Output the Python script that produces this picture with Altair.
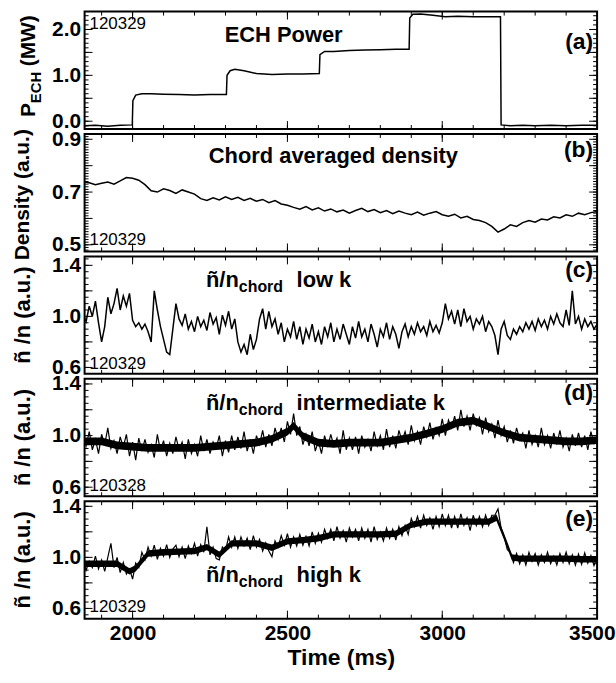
import altair as alt
import numpy as np
import pandas as pd

FONT = "Liberation Sans"
T0, T1 = 1845, 3500
W, H = 515, 118

# ---------------- data ----------------
ech_time = [1845, 1880, 1920, 1960, 1999,
            2001, 2010, 2030, 2060, 2100, 2150, 2200, 2250, 2303,
            2305, 2315, 2330, 2360, 2400, 2450, 2500, 2550, 2603,
            2605, 2620, 2650, 2700, 2750, 2800, 2850, 2893,
            2895, 2905, 2930, 2970, 3010, 3050, 3100, 3150, 3188,
            3190, 3220, 3260, 3300, 3350, 3400, 3450, 3500]
ech_power = [-0.10, -0.09, -0.11, -0.09, -0.08,
             0.45, 0.57, 0.60, 0.60, 0.59, 0.58, 0.57, 0.58, 0.58,
             1.00, 1.10, 1.13, 1.10, 1.04, 1.02, 1.03, 1.03, 1.04,
             1.45, 1.52, 1.52, 1.54, 1.55, 1.56, 1.57, 1.57,
             2.25, 2.33, 2.34, 2.31, 2.28, 2.29, 2.28, 2.28, 2.28,
             -0.08, -0.10, -0.09, -0.10, -0.09, -0.10, -0.09, -0.09]

dens_time = list(range(1840, 3501, 20))
density = [0.740, 0.735, 0.728, 0.733, 0.738, 0.730, 0.742, 0.755, 0.752, 0.745,
           0.728, 0.705, 0.700, 0.712, 0.706, 0.695, 0.708, 0.700, 0.692, 0.675,
           0.668, 0.678, 0.670, 0.682, 0.672, 0.680, 0.668, 0.676, 0.665, 0.672,
           0.660, 0.668, 0.655, 0.650, 0.642, 0.635, 0.645, 0.632, 0.640, 0.628,
           0.636, 0.625, 0.632, 0.620, 0.630, 0.638, 0.626, 0.634, 0.622, 0.630,
           0.618, 0.628, 0.620, 0.614, 0.624, 0.612, 0.620, 0.626, 0.614, 0.608,
           0.616, 0.602, 0.608, 0.596, 0.592, 0.584, 0.570, 0.548, 0.560, 0.576,
           0.570, 0.584, 0.592, 0.586, 0.598, 0.594, 0.606, 0.602, 0.614, 0.608,
           0.620, 0.614, 0.622, 0.626]

fl_time = list(range(1840, 3501, 10))
low_k = [1.02, 0.96, 1.08, 1.00, 1.12, 0.95, 0.80, 0.92, 1.15, 1.02,
         1.10, 1.22, 1.05, 1.16, 1.08, 1.18, 0.97, 0.92, 0.95, 0.90,
         0.94, 0.88, 0.80, 1.20, 1.05, 0.92, 0.82, 0.72, 0.70, 0.90,
         1.10, 0.98, 0.93, 1.02, 0.90, 0.96, 0.88, 1.00, 0.92, 0.97,
         0.89, 1.03, 0.94, 0.99, 0.86, 1.01, 0.93, 1.04, 0.90, 0.98,
         0.80, 0.72, 0.78, 0.70, 0.86, 0.74, 0.82, 0.98, 1.06, 0.90,
         1.04, 0.92, 0.98, 0.86, 0.95, 0.80, 0.90, 0.84, 0.96, 0.82,
         0.92, 0.78, 0.90, 0.83, 0.94, 0.80, 0.88, 0.78, 0.92, 0.84,
         0.95, 0.80, 0.90, 0.82, 0.94, 0.86, 0.78, 0.92, 0.83, 0.96,
         0.84, 0.90, 0.80, 0.94, 0.86, 0.76, 0.90, 0.84, 0.95, 0.82,
         0.92, 0.86, 0.75, 0.88, 0.94, 0.84, 0.92, 0.86, 0.95, 0.88,
         0.92, 0.85, 0.96, 0.88, 0.93, 0.87, 0.95, 1.10, 0.98, 1.04,
         0.94, 1.05, 0.92, 1.06, 0.96, 1.00, 0.90, 0.98, 0.94, 1.00,
         0.88, 0.96, 0.92, 0.85, 0.70, 0.90, 0.96, 0.85, 0.82, 0.90,
         0.86, 0.92, 0.88, 0.95, 0.90, 0.96, 0.89, 0.98, 0.92, 0.97,
         0.90, 1.00, 0.94, 1.02, 0.95, 0.92, 1.05, 0.93, 1.20, 0.94,
         1.00, 0.90, 0.98, 0.92, 0.96, 0.90, 0.94]
int_k = [1.00, 0.92, 1.03, 0.89, 0.97, 0.86, 1.01, 0.93, 1.06, 0.90,
         0.96, 0.86, 0.99, 0.91, 1.01, 0.84, 0.95, 0.81, 0.98, 0.88,
         0.97, 0.87, 0.93, 0.83, 1.01, 0.88, 0.96, 0.84, 0.94, 0.86,
         0.99, 0.89, 0.95, 0.82, 0.97, 0.86, 0.93, 0.84, 1.00, 0.88,
         0.97, 0.86, 0.95, 0.90, 1.00, 0.84, 0.96, 0.87, 1.00, 0.89,
         0.99, 0.90, 1.03, 0.88, 0.97, 0.86, 1.00, 0.93, 1.04, 0.91,
         1.01, 0.92, 1.06, 0.97, 1.06, 0.95, 1.11, 1.01, 1.17, 1.00,
         1.07, 0.93, 1.01, 0.92, 1.03, 0.88, 0.96, 0.86, 1.00, 0.91,
         1.01, 0.92, 0.98, 0.86, 1.04, 0.89, 0.98, 0.89, 0.99, 0.86,
         1.00, 0.91, 0.97, 0.88, 1.03, 0.92, 1.00, 0.89, 1.05, 0.91,
         1.00, 0.90, 1.04, 0.96, 1.03, 0.93, 1.08, 0.96, 1.03, 0.93,
         1.07, 0.99, 1.10, 0.97, 1.06, 1.00, 1.13, 1.00, 1.12, 1.06,
         1.15, 1.04, 1.20, 1.07, 1.15, 1.04, 1.17, 1.08, 1.14, 1.01,
         1.14, 1.03, 1.09, 0.98, 1.12, 1.00, 1.07, 0.95, 1.04, 0.94,
         1.06, 0.97, 1.02, 0.90, 1.04, 0.93, 1.00, 0.91, 1.06, 0.93,
         1.00, 0.90, 1.02, 0.93, 1.04, 0.91, 0.98, 0.88, 1.01, 0.92,
         1.02, 0.91, 1.00, 0.89, 1.03, 0.94, 0.99]
high_k = [0.99, 0.90, 0.97, 0.92, 1.01, 0.91, 0.98, 0.89, 1.00, 1.11,
          0.92, 1.00, 0.88, 0.96, 0.87, 0.91, 0.83, 0.955, 0.92, 1.04,
          0.98, 1.08, 1.01, 1.095, 0.985, 1.07, 1.01, 1.10, 1.00, 1.065,
          1.095, 1.005, 1.08, 0.99, 1.09, 1.03, 1.11, 1.01, 1.10, 1.04,
          1.24, 1.02, 1.08, 0.99, 0.98, 1.08, 1.05, 1.16, 1.08, 1.16,
          1.07, 1.16, 1.09, 1.15, 1.06, 1.17, 1.08, 1.14, 1.05, 1.115,
          1.05, 1.005, 1.13, 1.08, 1.17, 1.095, 1.185, 1.08, 1.16, 1.09,
          1.18, 1.095, 1.165, 1.09, 1.20, 1.11, 1.19, 1.12, 1.22, 1.15,
          1.22, 1.13, 1.24, 1.15, 1.21, 1.12, 1.23, 1.16, 1.22, 1.13,
          1.23, 1.15, 1.22, 1.12, 1.24, 1.14, 1.20, 1.13, 1.23, 1.15,
          1.22, 1.135, 1.24, 1.17, 1.25, 1.18, 1.305, 1.24, 1.32, 1.23,
          1.33, 1.25, 1.31, 1.22, 1.32, 1.24, 1.34, 1.25, 1.33, 1.23,
          1.32, 1.23, 1.34, 1.25, 1.31, 1.21, 1.33, 1.25, 1.32, 1.24,
          1.33, 1.25, 1.33, 1.33, 1.38, 1.23, 1.16, 1.06, 1.04, 0.96,
          1.03, 0.95, 1.02, 0.94, 1.04, 0.97, 1.03, 0.94, 1.02, 0.96,
          1.04, 0.95, 1.01, 0.94, 1.03, 0.96, 1.04, 0.95, 1.02, 0.94,
          1.025, 0.945, 1.035, 0.955, 1.015, 0.935, 1.005]

# dense-noise core (lower / upper edges) of the intermediate-k and high-k traces
band_d_time = [1845, 1900, 1950, 2000, 2050, 2100, 2150, 2200, 2250, 2300, 2350,
               2400, 2450, 2500, 2520, 2550, 2600, 2650, 2700, 2750, 2800, 2850,
               2900, 2950, 3000, 3050, 3100, 3150, 3200, 3250, 3300, 3350, 3400,
               3450, 3500]
band_d_lo = [0.925, 0.925, 0.895, 0.885, 0.875, 0.875, 0.875, 0.875, 0.885, 0.895,
             0.905, 0.915, 0.945, 1.00, 1.045, 0.965, 0.915, 0.905, 0.915, 0.915,
             0.915, 0.935, 0.955, 0.985, 1.02, 1.07, 1.085, 1.04, 0.99, 0.955,
             0.945, 0.935, 0.925, 0.925, 0.935]
band_d_hi = [0.985, 0.985, 0.955, 0.945, 0.935, 0.935, 0.935, 0.935, 0.945, 0.955,
             0.965, 0.975, 1.005, 1.06, 1.105, 1.025, 0.975, 0.965, 0.975, 0.975,
             0.975, 0.995, 1.015, 1.045, 1.08, 1.13, 1.145, 1.10, 1.05, 1.015,
             1.005, 0.995, 0.985, 0.985, 0.995]
band_e_time = [1845, 1900, 1950, 1990, 2010, 2050, 2100, 2150, 2200, 2240, 2280,
               2320, 2350, 2400, 2450, 2500, 2550, 2600, 2650, 2700, 2750, 2800,
               2850, 2900, 2950, 3000, 3050, 3100, 3150, 3175, 3200, 3225, 3250,
               3300, 3350, 3400, 3450, 3500]
band_e_lo = [0.925, 0.925, 0.925, 0.865, 0.89, 1.005, 1.015, 1.02, 1.025, 1.055,
             0.995, 1.085, 1.085, 1.085, 1.05, 1.10, 1.11, 1.125, 1.155, 1.155,
             1.155, 1.155, 1.16, 1.23, 1.255, 1.255, 1.255, 1.255, 1.255, 1.285,
             1.135, 0.975, 0.965, 0.965, 0.965, 0.965, 0.96, 0.96]
band_e_hi = [0.975, 0.975, 0.975, 0.915, 0.94, 1.055, 1.065, 1.07, 1.075, 1.105,
             1.045, 1.135, 1.135, 1.135, 1.10, 1.15, 1.16, 1.175, 1.205, 1.205,
             1.205, 1.205, 1.21, 1.28, 1.305, 1.305, 1.305, 1.305, 1.305, 1.335,
             1.185, 1.025, 1.015, 1.015, 1.015, 1.015, 1.01, 1.01]

x_major = [2000, 2500, 3000]
x_minor = [1900, 2000, 2100, 2200, 2300, 2400, 2500, 2600, 2700, 2800,
           2900, 3000, 3100, 3200, 3300, 3400]
x_labels = [2000, 2500, 3000, 3500]

# ---------------- helpers ----------------
ONE = pd.DataFrame({"k": [0]})
XSC = alt.Scale(domain=[T0, T1], nice=False, zero=False)


def txt(s, x, y, size=22, bold=True, angle=0, align="left",
        baseline="middle", dx=0, dy=0):
    return alt.Chart(ONE).mark_text(
        text=s, font=FONT, fontSize=size,
        fontWeight="bold" if bold else "normal",
        angle=angle, align=align, baseline=baseline, dx=dx, dy=dy,
        color="black",
    ).encode(x=alt.value(x), y=alt.value(y))


def frange(a, b, step):
    n = int(round((b - a) / step))
    return [round(a + i * step, 4) for i in range(n + 1)]


def panel(df, field, ydom, ylabels, ymaj, ymin, texts, bottom=False, sw=1.5,
          band=None):
    ysc = alt.Scale(domain=ydom, nice=False, zero=False)
    yax = alt.Axis(values=ylabels, format=".1f", title=None)
    if bottom:
        xax = alt.Axis(values=x_labels, format="d", title="Time (ms)",
                       labelFlush=True, labelFlushOffset=18)
    else:
        xax = None
    lo, hi = ydom
    layers = []
    if band is not None:
        layers.append(alt.Chart(band).mark_area(color="black", opacity=1, clip=True).encode(
            x=alt.X("t:Q", scale=XSC, axis=xax),
            y=alt.Y("lo:Q", scale=ysc, axis=yax),
            y2="hi:Q",
        ))
    layers.append(
        alt.Chart(df).mark_line(color="black", strokeWidth=sw, clip=True).encode(
            x=alt.X("t:Q", scale=XSC, axis=xax),
            y=alt.Y(f"{field}:Q", scale=ysc, axis=yax),
        )
    )
    for vals, ln in ((ymaj, 8), (ymin, 4)):
        d = pd.DataFrame({"v": [v for v in vals if lo < v < hi]})
        layers.append(alt.Chart(d).mark_rule(color="black", strokeWidth=1).encode(
            y=alt.Y("v:Q", scale=ysc, axis=yax), x=alt.value(0), x2=alt.value(ln)))
        layers.append(alt.Chart(d).mark_rule(color="black", strokeWidth=1).encode(
            y=alt.Y("v:Q", scale=ysc, axis=yax), x=alt.value(W - ln), x2=alt.value(W)))
    for vals, ln in ((x_major, 8), (x_minor, 4)):
        d = pd.DataFrame({"v": vals})
        layers.append(alt.Chart(d).mark_rule(color="black", strokeWidth=1).encode(
            x=alt.X("v:Q", scale=XSC, axis=xax), y=alt.value(H), y2=alt.value(H - ln)))
        layers.append(alt.Chart(d).mark_rule(color="black", strokeWidth=1).encode(
            x=alt.X("v:Q", scale=XSC, axis=xax), y=alt.value(0), y2=alt.value(ln)))
    layers += texts
    return alt.layer(*layers).properties(width=W, height=H)


def ntitle():
    return [txt("ñ /n (a.u.)", -62, H / 2, size=22, angle=270, align="center")]


def ntext(label, y):
    return [txt("ñ/n", 122, y, size=22),
            txt("chord", 155, y + 7, size=16),
            txt(label, 213, y, size=22)]


df_a = pd.DataFrame({"t": ech_time, "p": ech_power})
df_b = pd.DataFrame({"t": dens_time, "d": density})
df_c = pd.DataFrame({"t": fl_time, "n": low_k})
df_d = pd.DataFrame({"t": fl_time, "n": int_k})
df_e = pd.DataFrame({"t": fl_time, "n": high_k})
bd = pd.DataFrame({"t": band_d_time, "lo": band_d_lo, "hi": band_d_hi})
be = pd.DataFrame({"t": band_e_time, "lo": band_e_lo, "hi": band_e_hi})

nmaj = [0.6, 0.8, 1.0, 1.2, 1.4]
nmin = frange(0.55, 1.45, 0.05)
nlab = [0.6, 1.0, 1.4]

pa = panel(df_a, "p", [-0.17, 2.39], [0.0, 1.0, 2.0], [0.0, 0.5, 1.0, 1.5, 2.0],
           frange(-0.1, 2.3, 0.1),
           [txt("120329", 5, 12, size=17, bold=False),
            txt("ECH Power", 200, 24, size=22, align="center"),
            txt("(a)", 511, 31, size=23, align="right"),
            txt("P", -50, 106, size=21, angle=270, baseline="alphabetic"),
            txt("ECH", -50, 106, size=15, angle=270, baseline="alphabetic", dx=14, dy=6),
            txt("(MW)", -50, 106, size=21, angle=270, baseline="alphabetic", dx=51)])

pb = panel(df_b, "d", [0.475, 0.92], [0.5, 0.7, 0.9], frange(0.5, 0.9, 0.1),
           frange(0.48, 0.92, 0.01),
           [txt("120329", 5, 107, size=17, bold=False),
            txt("Chord averaged density", 250, 22, size=22, align="center"),
            txt("(b)", 511, 16, size=23, align="right"),
            txt("Density (a.u.)", -62, H / 2 + 2, size=21, angle=270, align="center")])

pc = panel(df_c, "n", [0.55, 1.47], nlab, nmaj, nmin,
           [txt("120329", 5, 108, size=17, bold=False),
            txt("(c)", 511, 14, size=23, align="right")] + ntext("low k", 24) + ntitle())

pd_ = panel(df_d, "n", [0.53, 1.44], nlab, nmaj, nmin,
            [txt("120328", 5, 108, size=17, bold=False),
             txt("(d)", 511, 14, size=23, align="right")] + ntext("intermediate k", 24) + ntitle(),
            sw=1.2, band=bd)

pe = panel(df_e, "n", [0.52, 1.44], nlab, nmaj, nmin,
           [txt("120329", 5, 106, size=17, bold=False),
            txt("(e)", 511, 18, size=23, align="right")] + ntext("high k", 74) + ntitle(),
           bottom=True, sw=1.2, band=be)

chart = alt.vconcat(pa, pb, pc, pd_, pe, spacing=5, bounds="flush").resolve_scale(
    y="independent"
).properties(
    padding={"left": 10, "top": 8, "right": 0, "bottom": 4},
    background="white",
).configure_view(
    stroke="black", strokeWidth=2
).configure_axis(
    grid=False, ticks=False, domain=False,
    labelFont=FONT, labelFontWeight="bold", labelFontSize=21, labelColor="black",
    labelPadding=4,
    titleFont=FONT, titleFontWeight="bold", titleFontSize=23, titleColor="black",
    titlePadding=3,
)

chart.save("out.html", embed_options={"renderer": "svg", "actions": False})
